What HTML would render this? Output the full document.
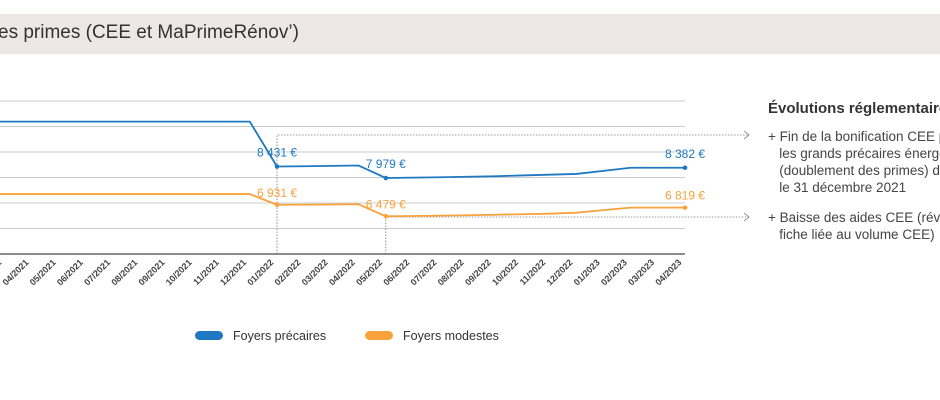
<!DOCTYPE html>
<html><head><meta charset="utf-8"><style>
body{margin:0;width:940px;height:400px;overflow:hidden;background:#fff;font-family:"Liberation Sans",sans-serif;position:relative}
.hdr{position:absolute;left:0;top:14px;width:940px;height:40px;background:#ede8e6;overflow:hidden}
.title{position:absolute;left:-2px;top:8px;font-size:19px;color:#333;white-space:nowrap}
.sidewrap{position:absolute;left:768px;top:0;width:172px;height:400px;overflow:hidden}
.side{position:absolute;left:0;color:#444;font-size:13.5px;white-space:nowrap;line-height:17px}
</style></head><body>
<div class="hdr"><div class="title">es primes (CEE et MaPrimeRénov’)</div></div>
<div class="sidewrap">
<div class="side" style="top:100px;font-weight:bold;font-size:15px;color:#333">Évolutions réglementaires</div>
<div class="side" style="top:128px">+ Fin de la bonification CEE pour<br>&nbsp;&nbsp;&nbsp;les grands précaires énergétiques<br>&nbsp;&nbsp;&nbsp;(doublement des primes) depuis<br>&nbsp;&nbsp;&nbsp;le 31 décembre 2021</div>
<div class="side" style="top:209px">+ Baisse des aides CEE (révision de la<br>&nbsp;&nbsp;&nbsp;fiche liée au volume CEE)</div>
</div>
<svg id="chart" width="740" height="400" style="position:absolute;left:0;top:0;overflow:hidden"></svg>
<script>
const months=["01/2021","02/2021","03/2021","04/2021","05/2021","06/2021","07/2021","08/2021","09/2021","10/2021","11/2021","12/2021","01/2022","02/2022","03/2022","04/2022","05/2022","06/2022","07/2022","08/2022","09/2022","10/2022","11/2022","12/2022","01/2023","02/2023","03/2023","04/2023"];
const precaires=[10190,10190,10190,10190,10190,10190,10190,10190,10190,10190,10190,10190,8431,8440,8455,8470,7979,7995,8010,8030,8050,8080,8110,8140,8260,8382,8382,8382];
const modestes=[7350,7350,7350,7350,7350,7350,7350,7350,7350,7350,7350,7350,6931,6935,6940,6950,6479,6490,6505,6520,6540,6560,6580,6620,6720,6819,6819,6819];
const gridVals=[5000,6000,7000,8000,9000,10000,11000];
const labels={12:"8 431 €",16:"7 979 €",27:"8 382 €"};
const labelsO={12:"6 931 €",16:"6 479 €",27:"6 819 €"};
const svg=document.getElementById('chart');
svg.setAttribute('width','940');
const NS="http://www.w3.org/2000/svg";
const x=i=>277+(i-12)*27.2;
const y=v=>254-(v-5000)*0.0255;
function mk(t,a){const e=document.createElementNS(NS,t);for(const k in a)e.setAttribute(k,a[k]);svg.appendChild(e);return e;}
gridVals.forEach(v=>{const l=mk('line',{x1:0,x2:685,y1:y(v),y2:y(v),stroke:v===5000?'#666':'#ccc','stroke-width':v===5000?1.5:1});

});
[[12,135],[16,217]].forEach(([i,yy])=>{
const p=mk('path',{d:`M${x(i)} 254 V${yy} H748`,fill:'none',stroke:'#777','stroke-width':0.8,'stroke-dasharray':'1.5 1.5'});


const a=mk('path',{d:`M744 ${yy-4} L749 ${yy} L744 ${yy+4}`,fill:'none',stroke:'#777','stroke-width':0.8});

});
months.forEach((m,i)=>{if(x(i)<5)return;const t=mk('text',{x:x(i)-3,y:263,'font-size':9,fill:'#444','font-weight':'bold','text-anchor':'end',transform:`rotate(-45 ${x(i)-3} 263)`});t.textContent=m;

});
function series(vals,col,lab,name,dy){
const d=vals.map((v,i)=>(i?'L':'M')+x(i)+' '+y(v)).join(' ');
const p=mk('path',{d,fill:'none',stroke:col,'stroke-width':1.8,'stroke-linejoin':'round'});


for(const k in lab){const i=+k;
const c=mk('circle',{cx:x(i),cy:y(vals[i]),r:2.3,fill:col});


const t=mk('text',{x:i===12?x(i):x(i),y:y(vals[i])+dy,'font-size':12,fill:col,'text-anchor':'middle'});t.textContent=lab[k];

}}
series(precaires,'#1f78c1',labels,'precaires',-10);
series(modestes,'#f9a23c',labelsO,'modestes',-8);
[[195,'#1f78c1','Foyers précaires'],[365,'#f9a23c','Foyers modestes']].forEach(([lx,c,n])=>{
const r=mk('rect',{x:lx,y:331,width:28,height:9,rx:4.5,fill:c});


const t=mk('text',{x:lx+38,y:340,'font-size':12.5,fill:'#333'});t.textContent=n;

});
</script>
</body></html>
